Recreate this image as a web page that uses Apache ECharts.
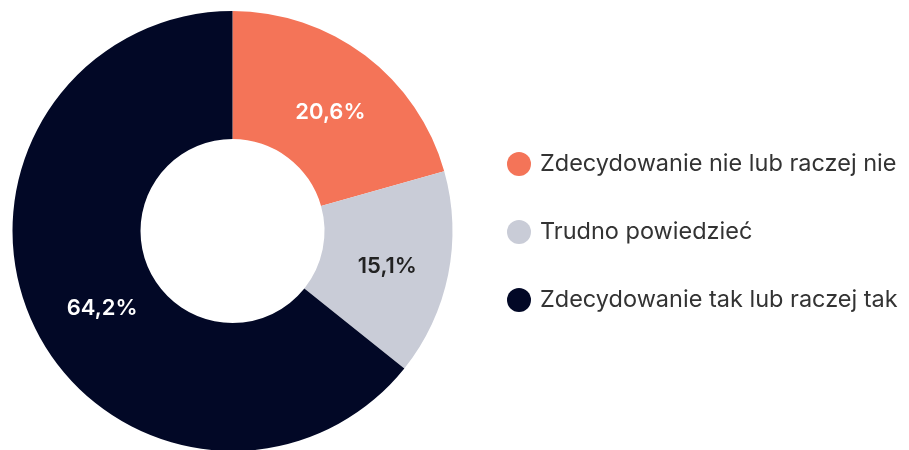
<!DOCTYPE html>
<html><head><meta charset="utf-8">
<script src="https://cdn.jsdelivr.net/npm/echarts@6/dist/echarts.min.js"></script>
<style>html,body{margin:0;padding:0;background:#fff}#c{width:909px;height:450px}</style>
</head><body><div id="c"></div>
<script>
const categories = ["Zdecydowanie nie lub raczej nie", "Trudno powiedzieć", "Zdecydowanie tak lub raczej tak"];
const values = [20.6, 15.1, 64.2];
const colors = ["#F47458", "#C9CCD7", "#020826"];
const labelColors = ["#ffffff", "#222222", "#ffffff"];
const labelShift = [[2, 8], [-1, 4], [13, 8]];

const chart = echarts.init(document.getElementById('c'));
chart.setOption({
  animation: false,
  legend: {
    orient: 'vertical',
    left: 502,
    top: 147,
    icon: 'circle',
    itemWidth: 24,
    itemHeight: 24,
    itemGap: 44,
    data: categories,
    textStyle: { fontFamily: 'Inter', fontSize: 23.5, color: '#333333', padding: [0,0,0,4] }
  },
  series: [{
    type: 'pie',
    center: [232.5, 231],
    radius: [92, 220],
    startAngle: 90,
    clockwise: true,
    label: {
      position: 'inside',
      fontFamily: 'Inter',
      fontSize: 22,
      fontWeight: 600,
      formatter: p => p.value.toFixed(1).replace('.', ',') + '%'
    },
    labelLayout: p => ({ dx: labelShift[p.dataIndex][0], dy: labelShift[p.dataIndex][1] }),
    labelLine: { show: false },
    emphasis: { disabled: true },
    data: categories.map((n, i) => ({
      name: n, value: values[i],
      itemStyle: { color: colors[i] },
      label: { color: labelColors[i] }
    }))
  }]
});
</script></body></html>
